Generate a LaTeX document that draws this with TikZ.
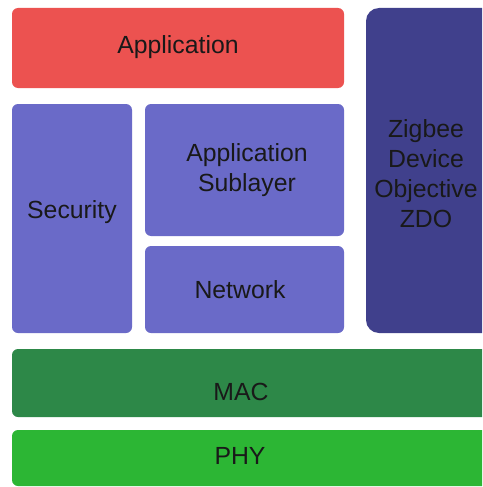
\documentclass[tikz,border=0pt]{standalone}
\usepackage{fontspec}
\setmainfont{Liberation Sans}
\usepackage{tikz}
\usetikzlibrary{positioning}

\definecolor{appred}{RGB}{236,82,80}
\definecolor{sublav}{RGB}{106,106,200}
\definecolor{zdoblue}{RGB}{64,64,140}
\definecolor{macgreen}{RGB}{45,136,72}
\definecolor{phygreen}{RGB}{44,182,52}

\begin{document}
\begin{tikzpicture}[x=1pt, y=-1pt,
  layer/.style={rounded corners=6pt},
  txt/.style={text=black!90, font=\fontsize{24.8}{30}\selectfont, inner sep=0pt, align=center}]

\clip (0,0) rectangle (482,487);
\fill[white] (0,0) rectangle (482,487);

% boxes
\fill[layer, appred] (12,8) rectangle (344,88);
\fill[layer, sublav] (12,104) rectangle (132,333);
\fill[layer, sublav] (145,104) rectangle (344,236);
\fill[layer, sublav] (145,246) rectangle (344,333);
\fill[zdoblue, rounded corners=13pt] (500,333) -- (366,333) -- (366,8) -- (500,8) -- cycle;
\fill[layer, macgreen] (12,349) rectangle (500,417);
\fill[layer, phygreen] (12,430) rectangle (500,486);

% labels
\node[txt, anchor=base] (app) at (178,53) {Application};
\node[txt, anchor=base] (sec) at (72,218) {Security};
\node[txt, anchor=center] (aps) at (247,170) {Application\\Sublayer};
\node[txt, anchor=base] (nwk) at (240,298) {Network};
\node[txt, anchor=center] (zdo) at (426,174) {Zigbee\\Device\\Objective\\ZDO};
\node[txt, anchor=base] (mac) at (241,400) {MAC};
\node[txt, anchor=base] (phy) at (240,464) {PHY};
\end{tikzpicture}
\end{document}
